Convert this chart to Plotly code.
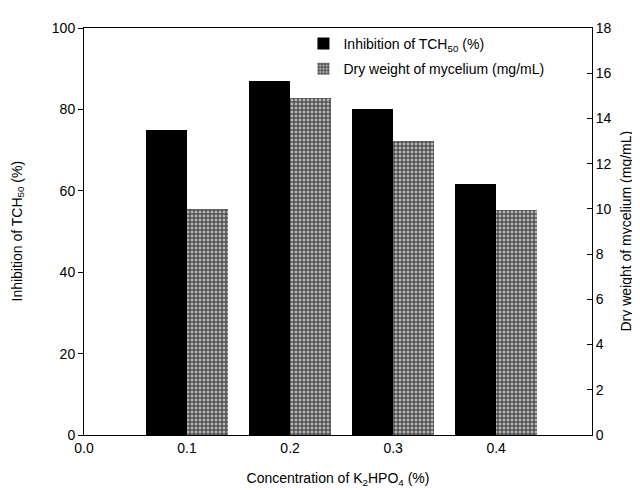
import plotly.graph_objects as go

concentrations = [0.1, 0.2, 0.3, 0.4]
inhibition = [75.0, 87.0, 80.0, 61.6]
dry_weight = [10.0, 14.9, 13.0, 9.95]
x_ticks = [0.0, 0.1, 0.2, 0.3, 0.4]
x_tick_labels = ["0.0", "0.1", "0.2", "0.3", "0.4"]
left_ticks = [0, 20, 40, 60, 80, 100]
right_ticks = [0, 2, 4, 6, 8, 10, 12, 14, 16, 18]

FONT = "Liberation Sans, Arial, sans-serif"

fig = go.Figure()
fig.add_trace(go.Bar(
    x=concentrations, y=inhibition, name="Inhibition of TCH<sub>50</sub> (%)",
    width=0.04, offset=-0.04, marker=dict(color="black", line=dict(width=0)),
    yaxis="y", legendgroup="a",
))
fig.add_trace(go.Bar(
    x=concentrations, y=dry_weight, name="Dry weight of mycelium (mg/mL)",
    width=0.04, offset=0.0,
    marker=dict(color="#8a8a8a", line=dict(width=0),
                pattern=dict(shape="+", fgcolor="#333333", bgcolor="#b4b4b4",
                             size=4, solidity=0.45, fillmode="replace")),
    yaxis="y2", legendgroup="b",
))

fig.update_layout(
    width=640, height=490,
    margin=dict(l=76, r=56, t=17, b=63),
    paper_bgcolor="white", plot_bgcolor="white",
    font=dict(family=FONT, size=14, color="black"),
    barmode="overlay", bargap=0,
    showlegend=True,
    legend=dict(x=0.432, y=1.0, xanchor="left", yanchor="top",
                bgcolor="rgba(0,0,0,0)", font=dict(size=14),
                traceorder="grouped", tracegroupgap=4),
    xaxis=dict(range=[0, 0.493], tickvals=x_ticks, ticktext=x_tick_labels,
               ticks="", showgrid=False, zeroline=False,
               showline=True, linecolor="black", linewidth=1, mirror=True,
               title=dict(text="Concentration of K<sub>2</sub>HPO<sub>4</sub> (%)",
                          font=dict(size=14), standoff=18),
               tickfont=dict(size=14)),
    yaxis=dict(range=[0, 100], tickvals=left_ticks, ticks="outside",
               ticklen=5, tickcolor="black", showgrid=False, zeroline=False,
               showline=True, linecolor="black", linewidth=1,
               tickfont=dict(size=14)),
    yaxis2=dict(range=[0, 18], tickvals=right_ticks, overlaying="y",
                side="right", ticks="inside", ticklen=5, tickcolor="black",
                showgrid=False, zeroline=False, showline=True,
                linecolor="black", linewidth=1,
                tickfont=dict(size=14)),
    annotations=[
        dict(text="Inhibition of TCH<sub>50</sub> (%)", xref="paper", yref="paper",
             x=0, y=0.5, xanchor="center", yanchor="middle", xshift=-67,
             textangle=-90, showarrow=False, font=dict(size=14)),
        dict(text="Dry weight of mycelium (mg/mL)", xref="paper", yref="paper",
             x=1, y=0.5, xanchor="center", yanchor="middle", xshift=33,
             textangle=-90, showarrow=False, font=dict(size=14)),
    ],
)

fig.write_html("out.html")
